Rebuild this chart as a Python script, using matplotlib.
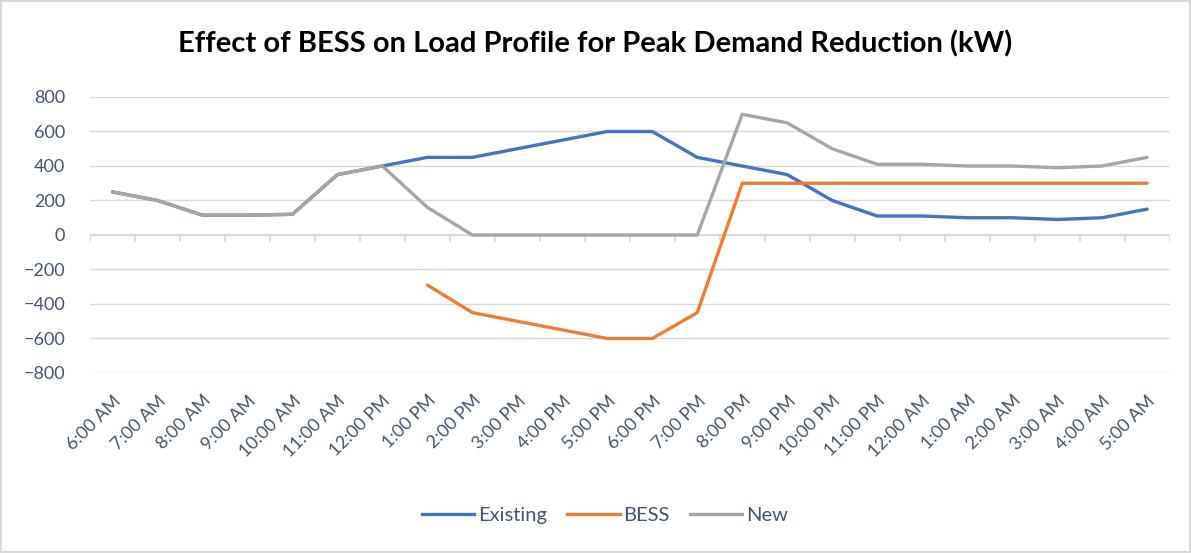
import numpy as np
import matplotlib.pyplot as plt
from matplotlib.lines import Line2D

hours = ['6:00 AM', '7:00 AM', '8:00 AM', '9:00 AM', '10:00 AM', '11:00 AM',
         '12:00 PM', '1:00 PM', '2:00 PM', '3:00 PM', '4:00 PM', '5:00 PM',
         '6:00 PM', '7:00 PM', '8:00 PM', '9:00 PM', '10:00 PM', '11:00 PM',
         '12:00 AM', '1:00 AM', '2:00 AM', '3:00 AM', '4:00 AM', '5:00 AM']
existing = [250, 200, 115, 115, 120, 350, 400, 450, 450, 500, 550, 600,
            600, 450, 400, 350, 200, 110, 110, 100, 100, 90, 100, 150]
bess = [np.nan, np.nan, np.nan, np.nan, np.nan, np.nan, np.nan, -290, -450, -500, -550, -600,
        -600, -450, 300, 300, 300, 300, 300, 300, 300, 300, 300, 300]
new = [250, 200, 115, 115, 120, 350, 400, 160, 0, 0, 0, 0,
       0, 0, 700, 650, 500, 410, 410, 400, 400, 390, 400, 450]

txt = '#44546A'
plt.rcParams['font.family'] = ['Lato', 'DejaVu Sans']

fig = plt.figure(figsize=(11.91, 5.53), dpi=100)
fig.patch.set_edgecolor('#d9d9d9')
fig.patch.set_linewidth(1.5)
ax = fig.add_axes([0.0756, 0.3255, 0.9064, 0.4991])

x = np.arange(len(hours))
ax.plot(x, existing, color='#4472C4', lw=2.4, label='Existing', solid_capstyle='round')
ax.plot(x, bess, color='#ED7D31', lw=2.4, label='BESS', solid_capstyle='round')
ax.plot(x, new, color='#A5A5A5', lw=2.4, label='New', solid_capstyle='round')

ax.set_xlim(-0.5, len(hours) - 0.5)
ax.set_ylim(-800, 800)
ax.set_yticks(np.arange(-800, 801, 200))
ax.grid(axis='y', color='#d9d9d9', lw=1)
ax.set_axisbelow(True)
for s in ax.spines.values():
    s.set_visible(False)
ax.tick_params(axis='y', length=0, pad=18, labelsize=13, labelcolor=txt)
ax.tick_params(axis='x', length=0, pad=14, labelsize=13, labelcolor=txt)
ax.set_xticks(x)
ax.set_xticklabels(hours, rotation=45, ha='right', rotation_mode='anchor')

# category axis sits at zero with tick marks between categories
ax.axhline(0, color='#d9d9d9', lw=1.2, zorder=1)
ax.vlines(np.arange(len(hours) + 1) - 0.5, -40, 0, color='#d9d9d9', lw=1.2, zorder=1)

fig.suptitle('Effect of BESS on Load Profile for Peak Demand Reduction (kW)',
             y=0.945, fontsize=21, fontweight='bold', color='black')

handles = [Line2D([], [], color=c, lw=2.4) for c in ['#4472C4', '#ED7D31', '#A5A5A5']]
fig.legend(handles, ['Existing', 'BESS', 'New'], loc='center', bbox_to_anchor=(0.508, 0.067),
           ncol=3, frameon=False, fontsize=14.5, labelcolor=txt, handlelength=2.6,
           handletextpad=0.2, columnspacing=1.0)

fig.savefig('out.png', dpi=100)
